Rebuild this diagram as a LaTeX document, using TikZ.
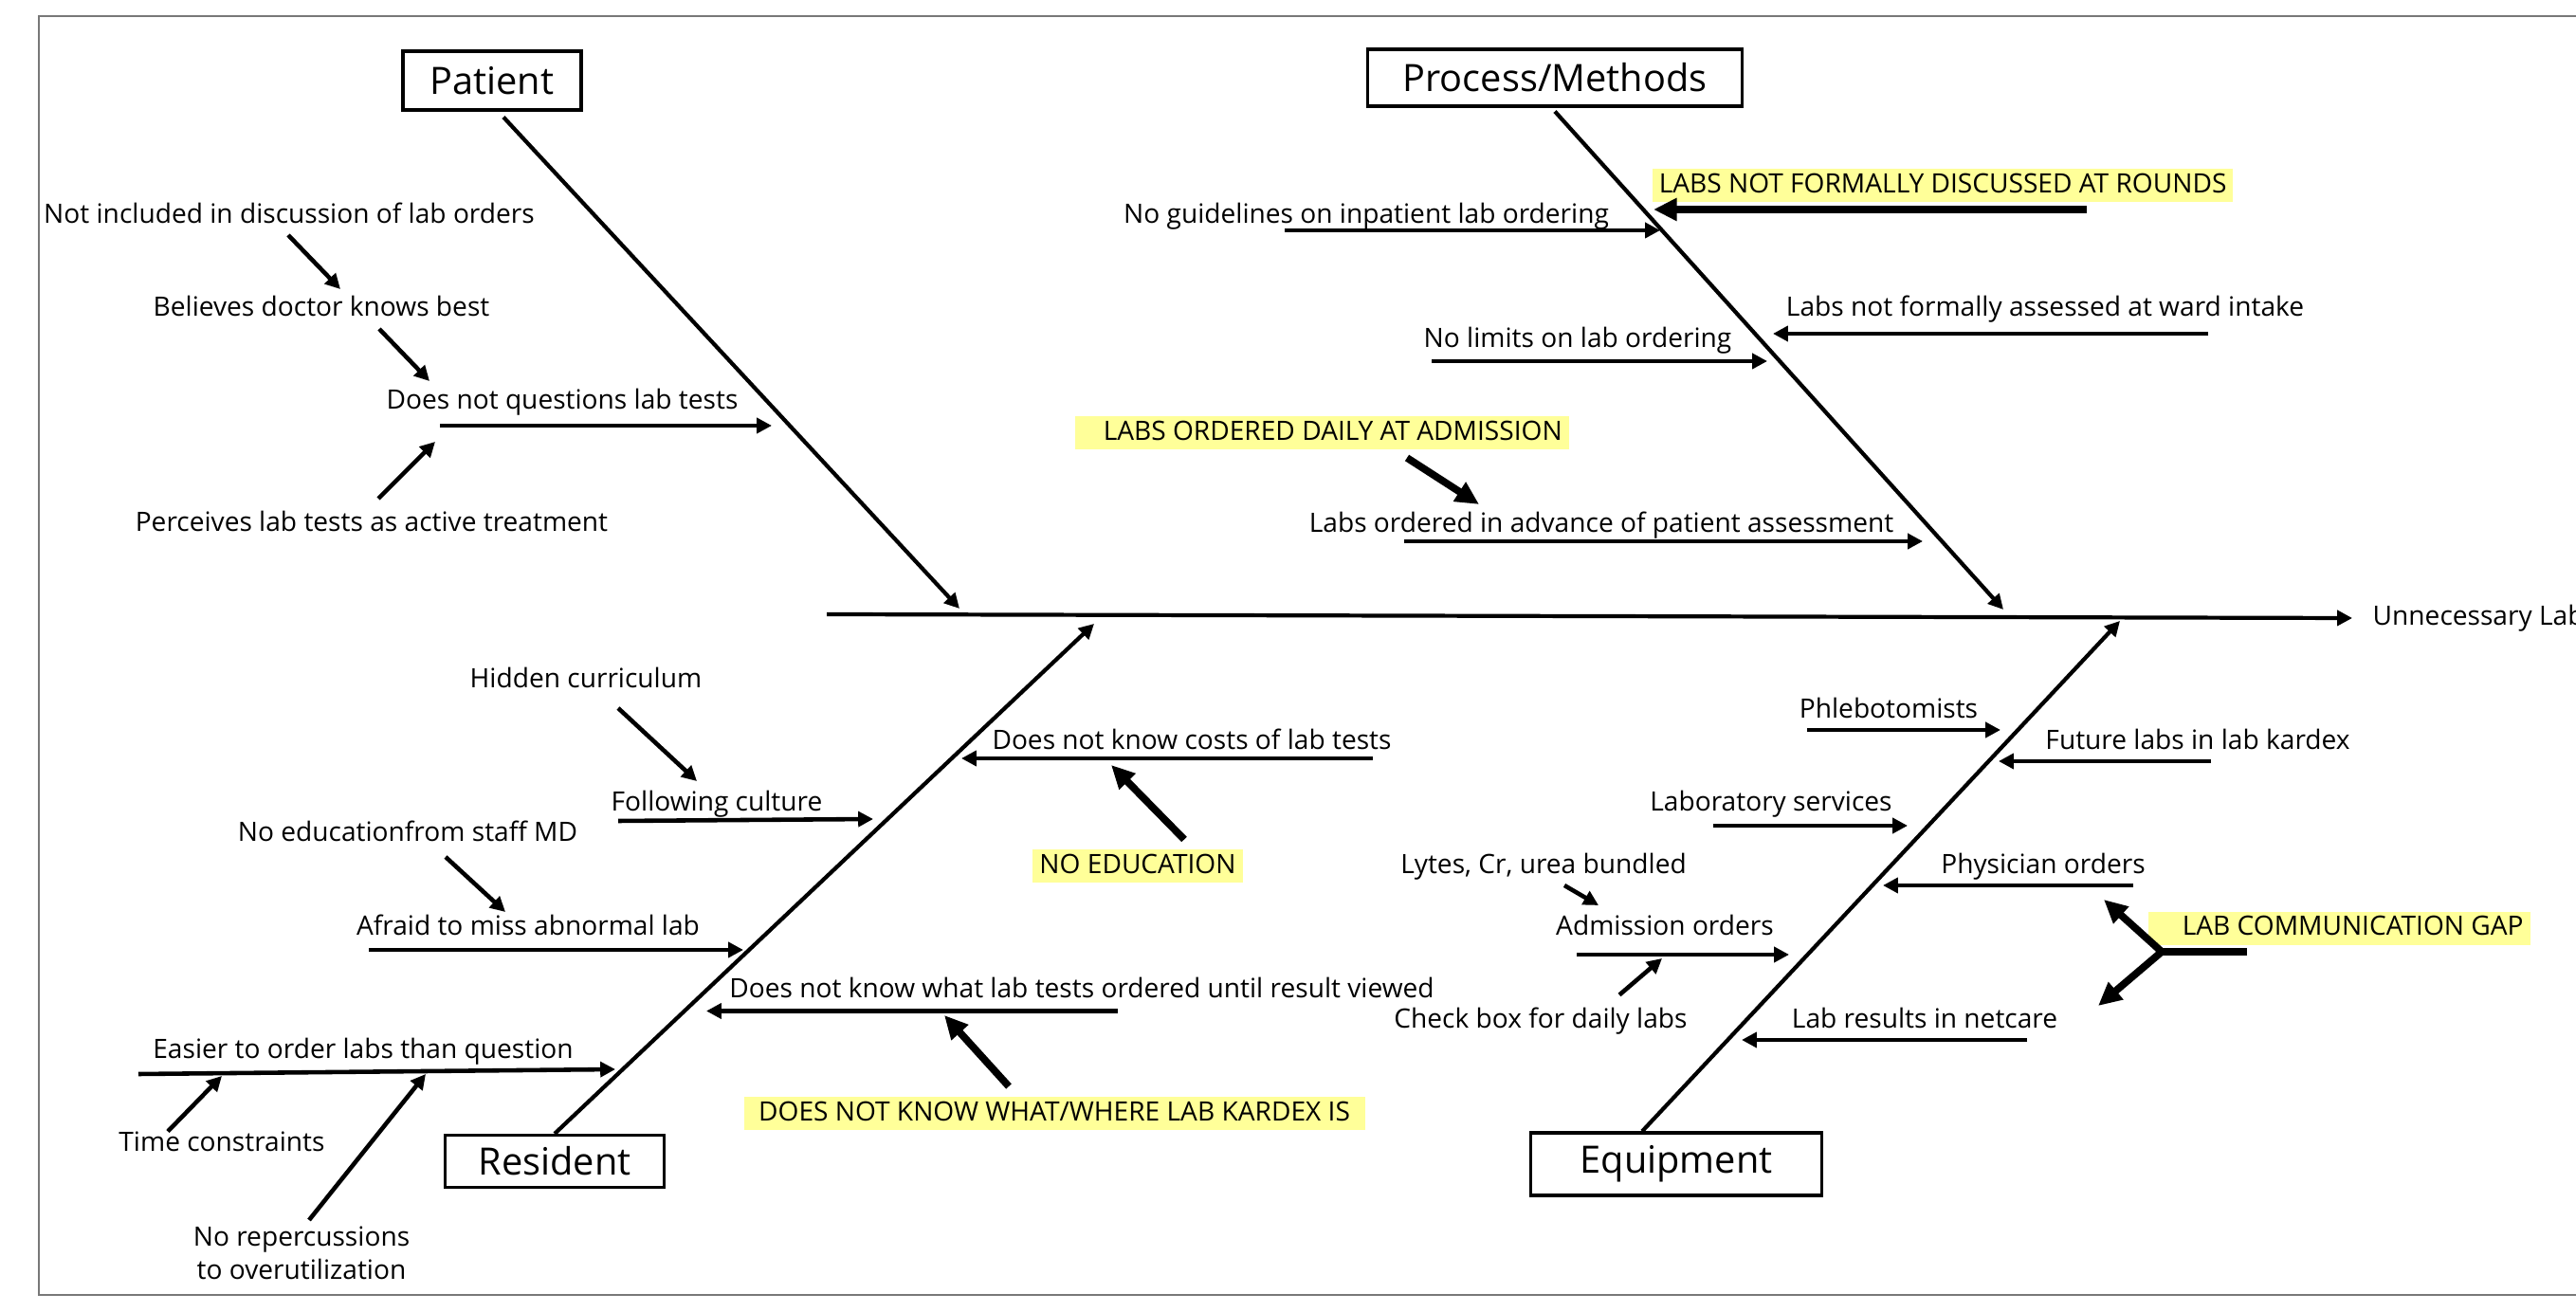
\documentclass[tikz,border=0pt]{standalone}
\usepackage{fontspec}
\setmainfont{Open Sans}
\usetikzlibrary{arrows.meta}
\definecolor{hlyellow}{RGB}{255,255,153}
\definecolor{framegray}{RGB}{120,120,120}

\begin{document}
\begin{tikzpicture}[>={Triangle[length=4.5pt,width=4.5pt]},
  lbl/.style={font=\fontsize{8}{10}\selectfont, inner sep=0pt, text height=5.9pt, text depth=1.7pt},
  hl/.style={lbl, fill=hlyellow, inner xsep=2pt, minimum height=0.35cm},
  catbox/.style={draw, line width=0.9pt, font=\fontsize{11.3}{13}\selectfont, inner sep=0pt},
  bone/.style={->, line width=1.2pt},
  cause/.style={->, line width=1.3pt},
  heavy/.style={-{Triangle[length=7pt,width=6.5pt]}, line width=2.2pt}]
  \useasboundingbox (0,0) rectangle (27.17,13.83);
  % --- frame ---
  \draw[framegray, line width=0.5pt] (27.17,13.66) -- (0.41,13.66) -- (0.41,0.17) -- (27.17,0.17);

  % --- spine ---
  \coordinate (tail) at (8.72,7.35);
  \coordinate (head) at (24.81,7.31);
  \node[lbl, anchor=west] (effect) at (25.02,7.31) {Unnecessary Lab};
  \draw[bone] (tail) -- (head);

  % --- categories ---
  \node[catbox, minimum width=1.88cm, minimum height=0.62cm] (patient) at (5.19,12.98) {Patient};
  \node[catbox, minimum width=3.95cm, minimum height=0.60cm] (process) at (16.40,13.01) {Process/Methods};
  \node[catbox, minimum width=2.31cm, minimum height=0.55cm] (resident) at (5.85,1.58) {Resident};
  \node[catbox, minimum width=3.07cm, minimum height=0.66cm] (equipment) at (17.68,1.55) {Equipment};

  \coordinate (patient-in) at (10.12,7.41);
  \coordinate (process-in) at (21.13,7.40);
  \coordinate (resident-in) at (11.54,7.25);
  \coordinate (equipment-in) at (22.36,7.28);

  \draw[bone] ([shift={(0.12,-0.06)}]patient.south) -- (patient-in);
  \draw[bone] ([yshift=-0.04cm]process.south) -- (process-in);
  \draw[bone] (resident.north) -- (resident-in);
  \draw[bone] ([xshift=-0.36cm]equipment.north) -- (equipment-in);

  % --- Patient ---
  \node[lbl] (notincl) at (3.05,11.55) {Not included in discussion of lab orders};
  \node[lbl] (believes) at (3.39,10.57) {Believes doctor knows best};
  \node[lbl] (noquest) at (5.93,9.59) {Does not questions lab tests};
  \node[lbl] (perceives) at (3.92,8.30) {Perceives lab tests as active treatment};
  \coordinate (notincl-s) at (3.04,11.35);   \coordinate (notincl-e) at (3.59,10.78);
  \coordinate (believes-s) at (4.00,10.36);  \coordinate (believes-e) at (4.53,9.81);
  \coordinate (noquest-s) at (4.64,9.34);    \coordinate (noquest-e) at (8.14,9.34);
  \coordinate (perceives-s) at (3.99,8.57);  \coordinate (perceives-e) at (4.59,9.17);
  \draw[cause] (notincl-s) -- (notincl-e);
  \draw[cause] (believes-s) -- (believes-e);
  \draw[cause] (noquest-s) -- (noquest-e);
  \draw[cause] (perceives-s) -- (perceives-e);

  % --- Process/Methods ---
  \node[hl, anchor=west] (rounds) at (17.42,11.87) {LABS NOT FORMALLY DISCUSSED AT ROUNDS};
  \node[lbl] (noguide) at (14.41,11.55) {No guidelines on inpatient lab ordering};
  \node[lbl] (ward) at (21.57,10.57) {Labs not formally assessed at ward intake};
  \node[lbl] (nolimits) at (16.64,10.24) {No limits on lab ordering};
  \node[hl, anchor=west] (daily) at (11.33,9.26) {\hspace*{0.23cm}LABS ORDERED DAILY AT ADMISSION};
  \node[lbl] (advance) at (16.89,8.29) {Labs ordered in advance of patient assessment};
  \coordinate (rounds-s) at (22.01,11.62);   \coordinate (rounds-e) at (17.44,11.62);
  \coordinate (noguide-s) at (13.55,11.40);  \coordinate (noguide-e) at (17.51,11.40);
  \coordinate (ward-s) at (23.29,10.31);     \coordinate (ward-e) at (18.70,10.31);
  \coordinate (nolimits-s) at (15.10,10.02); \coordinate (nolimits-e) at (18.64,10.02);
  \coordinate (daily-s) at (14.84,9.00);     \coordinate (daily-e) at (15.60,8.51);
  \coordinate (advance-s) at (14.81,8.12);   \coordinate (advance-e) at (20.28,8.12);
  \draw[heavy] (rounds-s) -- (rounds-e);
  \draw[cause] (noguide-s) -- (noguide-e);
  \draw[cause] (ward-s) -- (ward-e);
  \draw[cause] (nolimits-s) -- (nolimits-e);
  \draw[heavy] (daily-s) -- (daily-e);
  \draw[cause] (advance-s) -- (advance-e);

  % --- Resident ---
  \node[lbl] (hidden) at (6.18,6.65) {Hidden curriculum};
  \node[lbl] (culture) at (7.56,5.35) {Following culture};
  \node[lbl] (staffmd) at (4.30,5.03) {No educationfrom staff MD};
  \node[lbl] (afraid) at (5.57,4.04) {Afraid to miss abnormal lab};
  \node[lbl] (costs) at (12.57,6.00) {Does not know costs of lab tests};
  \node[hl, minimum width=2.21cm] (noedu) at (12.00,4.69) {NO EDUCATION};
  \node[lbl] (viewed) at (11.41,3.38) {Does not know what lab tests ordered until result viewed};
  \node[hl, minimum width=6.55cm] (kardex) at (11.12,2.08) {DOES NOT KNOW WHAT/WHERE LAB KARDEX IS};
  \node[lbl] (easier) at (3.83,2.74) {Easier to order labs than question};
  \node[lbl] (time) at (2.34,1.76) {Time constraints};
  \node[font=\fontsize{8}{10}\selectfont, inner sep=0pt, align=center] (norep) at (3.18,0.61) {No repercussions\\to overutilization};
  \coordinate (hidden-s) at (6.52,6.36);     \coordinate (hidden-e) at (7.35,5.59);
  \coordinate (culture-s) at (6.52,5.17);    \coordinate (culture-e) at (9.21,5.19);
  \coordinate (staffmd-s) at (4.70,4.79);    \coordinate (staffmd-e) at (5.33,4.21);
  \coordinate (afraid-s) at (3.89,3.81);     \coordinate (afraid-e) at (7.84,3.81);
  \coordinate (costs-s) at (14.48,5.83);     \coordinate (costs-e) at (10.14,5.83);
  \coordinate (noedu-s) at (12.49,4.975);    \coordinate (noedu-e) at (11.72,5.76);
  \coordinate (viewed-s) at (11.79,3.165);   \coordinate (viewed-e) at (7.45,3.165);
  \coordinate (kardex-s) at (10.64,2.37);    \coordinate (kardex-e) at (9.96,3.12);
  \coordinate (easier-s) at (1.46,2.50);     \coordinate (easier-e) at (6.49,2.55);
  \coordinate (time-s) at (1.77,1.895);      \coordinate (time-e) at (2.34,2.48);
  \coordinate (norep-s) at (3.26,0.96);      \coordinate (norep-e) at (4.49,2.50);
  \draw[cause] (hidden-s) -- (hidden-e);
  \draw[cause] (culture-s) -- (culture-e);
  \draw[cause] (staffmd-s) -- (staffmd-e);
  \draw[cause] (afraid-s) -- (afraid-e);
  \draw[cause] (costs-s) -- (costs-e);
  \draw[heavy] (noedu-s) -- (noedu-e);
  \draw[cause] (viewed-s) -- (viewed-e);
  \draw[heavy] (kardex-s) -- (kardex-e);
  \draw[cause] (easier-s) -- (easier-e);
  \draw[cause] (time-s) -- (time-e);
  \draw[cause] (norep-s) -- (norep-e);

  % --- Equipment ---
  \node[lbl] (phleb) at (19.92,6.33) {Phlebotomists};
  \node[lbl] (future) at (23.18,6.00) {Future labs in lab kardex};
  \node[lbl] (labserv) at (18.68,5.35) {Laboratory services};
  \node[lbl] (lytes) at (16.28,4.69) {Lytes, Cr, urea bundled};
  \node[lbl] (physician) at (21.55,4.69) {Physician orders};
  \node[lbl] (admission) at (17.56,4.04) {Admission orders};
  \node[lbl] (checkbox) at (16.25,3.06) {Check box for daily labs};
  \node[lbl] (netcare) at (20.30,3.06) {Lab results in netcare};
  \node[hl, anchor=west] (gap) at (22.65,4.035) {\hspace*{0.29cm}LAB COMMUNICATION GAP};
  \coordinate (phleb-s) at (19.06,6.13);     \coordinate (phleb-e) at (21.10,6.13);
  \coordinate (future-s) at (23.32,5.80);    \coordinate (future-e) at (21.08,5.80);
  \coordinate (labserv-s) at (18.07,5.12);   \coordinate (labserv-e) at (20.12,5.12);
  \coordinate (lytes-s) at (16.50,4.49);     \coordinate (lytes-e) at (16.86,4.28);
  \coordinate (physician-s) at (22.50,4.49); \coordinate (physician-e) at (19.86,4.49);
  \coordinate (admission-s) at (16.63,3.76); \coordinate (admission-e) at (18.87,3.76);
  \coordinate (checkbox-s) at (17.08,3.335); \coordinate (checkbox-e) at (17.53,3.72);
  \coordinate (netcare-s) at (21.38,2.86);   \coordinate (netcare-e) at (18.37,2.86);
  \coordinate (gap-tail) at (23.70,3.79);    \coordinate (gap-fork) at (22.80,3.79);
  \coordinate (gap-up) at (22.19,4.34);      \coordinate (gap-down) at (22.13,3.22);
  \draw[cause] (phleb-s) -- (phleb-e);
  \draw[cause] (future-s) -- (future-e);
  \draw[cause] (labserv-s) -- (labserv-e);
  \draw[cause] (lytes-s) -- (lytes-e);
  \draw[cause] (physician-s) -- (physician-e);
  \draw[cause] (admission-s) -- (admission-e);
  \draw[cause] (checkbox-s) -- (checkbox-e);
  \draw[cause] (netcare-s) -- (netcare-e);
  \draw[line width=2.2pt] (gap-tail) -- (gap-fork);
  \draw[heavy] (gap-fork) -- (gap-up);
  \draw[heavy] (gap-fork) -- (gap-down);
\end{tikzpicture}
\end{document}
